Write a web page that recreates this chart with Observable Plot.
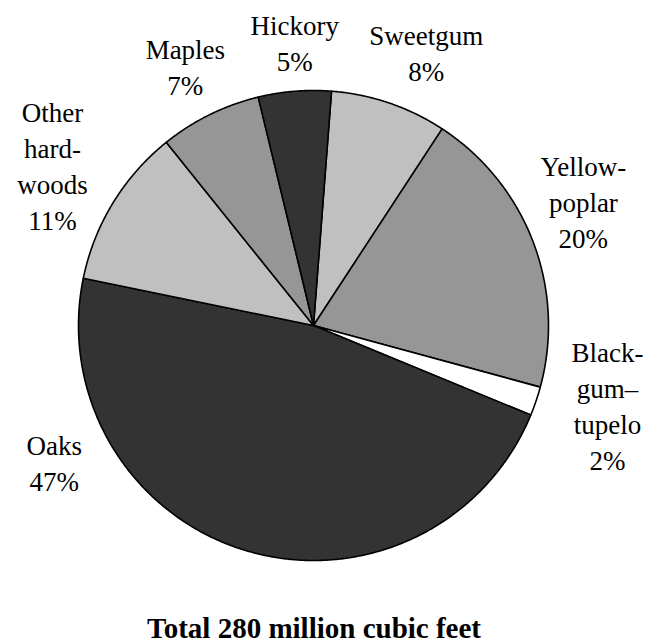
<!DOCTYPE html>
<html>
<head>
<meta charset="utf-8">
<script src="https://cdn.jsdelivr.net/npm/d3@7"></script>
<script src="https://cdn.jsdelivr.net/npm/@observablehq/plot@0.6"></script>
<style>
  html, body { margin: 0; padding: 0; background: #fff; }
  svg { display: block; }
  svg text, svg tspan { font-family: "Liberation Serif", serif !important; }
</style>
</head>
<body>
<div id="chart"></div>
<script>
// ---- data ----
const species = ["Sweetgum", "Yellow-poplar", "Black-gum–tupelo", "Oaks", "Other hardwoods", "Maples", "Hickory"];
const labelLines = ["Sweetgum", "Yellow-\npoplar", "Black-\ngum–\ntupelo", "Oaks", "Other\nhard-\nwoods", "Maples", "Hickory"];
const percents = [8, 20, 2, 47, 11, 7, 5];
const fills = ["#c0c0c0", "#969696", "#ffffff", "#333333", "#c0c0c0", "#969696", "#333333"];
const titleText = "Total 280 million cubic feet";

// ---- layout ----
const W = 657, H = 644;
const cx = 313, cy = 325, R = 235;
const startDeg = 4.4;
const serif = "Liberation Serif";
const labelNudge = {"Sweetgum": [3.6, 1.26], "Yellow-poplar": [-4, 1.265], "Black-gum–tupelo": [-3.8, 1.295],
  "Oaks": [45.4, 1.245], "Other hardwoods": [0.3, 1.305], "Maples": [0, 1.235], "Hickory": [0.8, 1.21]};

const rows = species.map((s, i) => ({name: s, lines: labelLines[i], value: percents[i], fill: fills[i]}));
const start = startDeg * Math.PI / 180;
const arcs = d3.pie().sort(null).value(d => d.value).startAngle(start).endAngle(start + 2 * Math.PI)(rows);

const polar = (a, r) => [cx + r * Math.sin(a), cy - r * Math.cos(a)];

const slicePts = [];
for (const a of arcs) {
  const n = Math.max(2, Math.ceil((a.endAngle - a.startAngle) / (0.4 * Math.PI / 180)));
  const [x0, y0] = polar(0, 0);
  slicePts.push({name: a.data.name, fill: a.data.fill, x: x0, y: y0});
  for (let k = 0; k <= n; k++) {
    const t = a.startAngle + (a.endAngle - a.startAngle) * k / n;
    const [x, y] = polar(t, R);
    slicePts.push({name: a.data.name, fill: a.data.fill, x, y});
  }
  slicePts.push({name: a.data.name, fill: a.data.fill, x: x0, y: y0});
}

const labels = arcs.map(a => {
  const [dDeg, rf] = labelNudge[a.data.name];
  const mid = (a.startAngle + a.endAngle) / 2 + dDeg * Math.PI / 180;
  const [x, y] = polar(mid, R * rf);
  return {x, y, text: a.data.lines + "\n" + a.data.value + "%"};
});

const chart = Plot.plot({
  width: W,
  height: H,
  margin: 0,
  style: {fontFamily: serif, background: "#fff"},
  x: {domain: [0, W], range: [0, W], axis: null},
  y: {domain: [0, H], range: [0, H], axis: null},
  color: {type: "identity"},
  marks: [
    Plot.line(slicePts, {x: "x", y: "y", z: "name", fill: "fill", stroke: "#000", strokeWidth: 1.6, strokeLinejoin: "round", curve: "linear"}),
    Plot.text(labels, {x: "x", y: "y", text: "text", fontFamily: serif, fontSize: 27, lineHeight: 1.333, fill: "#000", textAnchor: "middle", lineAnchor: "middle"}),
    Plot.text([titleText], {x: () => 313.5, y: () => 628, text: d => d, fontFamily: serif, fontSize: 29, fontWeight: "bold", fill: "#000", textAnchor: "middle"})
  ]
});
d3.select(chart).selectAll("text, tspan").attr("font-family", serif).style("font-family", "'Liberation Serif', serif");
document.getElementById("chart").appendChild(chart);
</script>
</body>
</html>
